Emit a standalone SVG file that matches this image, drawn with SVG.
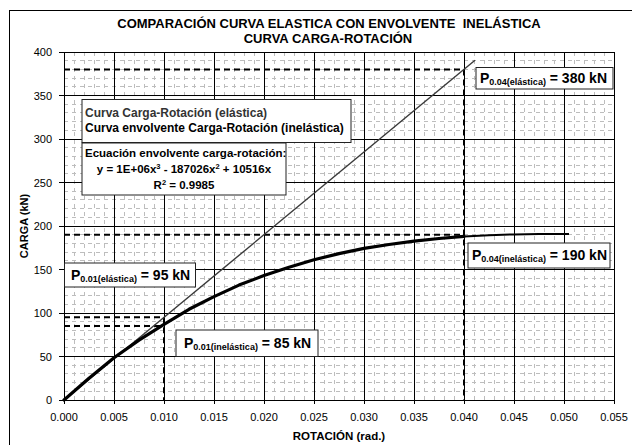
<svg xmlns="http://www.w3.org/2000/svg" width="632" height="445" viewBox="0 0 632 445">
<style>
text{font-family:"Liberation Sans",Arial,sans-serif;fill:#000}
.b{font-weight:bold}
.tick{font-size:11px}
.minor{fill:none;stroke:#bdbdbd;stroke-width:1;stroke-dasharray:4 4}
.major{fill:none;stroke:#000;stroke-width:1}
.ref{fill:none;stroke:#000;stroke-width:2;stroke-dasharray:6 4}
.box{fill:#fff;stroke:#222;stroke-width:1}
.lbl{font-size:14px;font-weight:bold}
.sub{font-size:9px}
</style>
<rect x="0" y="0" width="632" height="445" fill="#fff"/>
<rect x="9.5" y="10.5" width="640" height="450" fill="#fff" stroke="#000" stroke-width="1"/>
<g id="title" class="b" font-size="13" text-anchor="middle">
<text x="329" y="28" style="white-space:pre">COMPARACIÓN CURVA ELASTICA CON ENVOLVENTE  INELÁSTICA</text>
<text x="328" y="43">CURVA CARGA-ROTACIÓN</text>
</g>
<g id="grid" shape-rendering="crispEdges">
<path class="minor" d="M74 52V400M84 52V400M94 52V400M104 52V400M124 52V400M134 52V400M144 52V400M154 52V400M174 52V400M184 52V400M194 52V400M204 52V400M224 52V400M234 52V400M244 52V400M254 52V400M274 52V400M284 52V400M294 52V400M304 52V400M324 52V400M334 52V400M344 52V400M354 52V400M374 52V400M384 52V400M394 52V400M404 52V400M424 52V400M434 52V400M444 52V400M454 52V400M474 52V400M484 52V400M494 52V400M504 52V400M524 52V400M534 52V400M544 52V400M554 52V400M574 52V400M584 52V400M594 52V400M604 52V400"/>
<path class="minor" d="M64 391.3H614M64 382.6H614M64 373.9H614M64 365.2H614M64 347.8H614M64 339.1H614M64 330.4H614M64 321.7H614M64 304.3H614M64 295.6H614M64 286.9H614M64 278.2H614M64 260.8H614M64 252.1H614M64 243.4H614M64 234.7H614M64 217.3H614M64 208.6H614M64 199.9H614M64 191.2H614M64 173.8H614M64 165.1H614M64 156.4H614M64 147.7H614M64 130.3H614M64 121.6H614M64 112.9H614M64 104.2H614M64 86.8H614M64 78.1H614M64 69.4H614M64 60.7H614"/>
<path class="major" d="M114 52V404M164 52V404M214 52V404M264 52V404M314 52V404M364 52V404M414 52V404M464 52V404M514 52V404M564 52V404M614 52V404M64 400V404"/>
<path class="major" d="M59 356.5H614M59 313H614M59 269.5H614M59 226H614M59 182.5H614M59 139H614M59 95.5H614M59 52H64M59 400H64"/>
<rect class="major" x="64" y="52" width="550" height="348"/>
</g>
<g id="axis-labels" class="tick">
<g text-anchor="end">
<text x="52" y="404">0</text>
<text x="52" y="360.5">50</text>
<text x="52" y="317">100</text>
<text x="52" y="273.5">150</text>
<text x="52" y="230">200</text>
<text x="52" y="186.5">250</text>
<text x="52" y="143">300</text>
<text x="52" y="99.5">350</text>
<text x="52" y="56">400</text>
</g>
<g text-anchor="middle">
<text x="64" y="421">0.000</text>
<text x="114" y="421">0.005</text>
<text x="164" y="421">0.010</text>
<text x="214" y="421">0.015</text>
<text x="264" y="421">0.020</text>
<text x="314" y="421">0.025</text>
<text x="364" y="421">0.030</text>
<text x="414" y="421">0.035</text>
<text x="464" y="421">0.040</text>
<text x="514" y="421">0.045</text>
<text x="564" y="421">0.050</text>
<text x="614" y="421">0.055</text>
</g>
<text class="b" x="339" y="440" font-size="11.5" text-anchor="middle">ROTACIÓN (rad.)</text>
<text class="b" x="0" y="0" font-size="11" text-anchor="middle" transform="translate(28 226) rotate(-90)">CARGA (kN)</text>
</g>
<g id="connectors">
<path class="ref" d="M64 69.4H464V400"/>
<path class="ref" d="M64 234.7H464"/>
<path class="ref" d="M64 317.3H164V400"/>
<path class="ref" d="M64 326H164"/>
<path d="M64 400L475 60.3" fill="none" stroke="#3a3a3a" stroke-width="1.4"/>
<polyline points="64,400 89,378.2 114,357.8 139,340.1 164,324.3 189,309.3 214,296.6 239,285.1 264,275.6 289,267.2 314,259.8 339,253.6 364,248.4 389,244.5 414,241.2 439,238.5 464,236.4" fill="none" stroke="#000" stroke-width="3.2" stroke-linejoin="round" stroke-linecap="round"/>
<polyline points="464,236.4 489,235.2 514,234.4 539,234.1 569,234" fill="none" stroke="#000" stroke-width="2"/>
</g>
<g id="legend">
<rect class="box" x="82" y="99.5" width="269" height="43"/>
<text class="b" x="85" y="116.5" font-size="12" style="fill:#333">Curva Carga-Rotación (elástica)</text>
<text class="b" x="85" y="131.5" font-size="12">Curva envolvente Carga-Rotación (inelástica)</text>
</g>
<g id="equation">
<rect class="box" x="82" y="143" width="204" height="52"/>
<text class="b" x="85" y="157" font-size="11.5">Ecuación envolvente carga-rotación:</text>
<text class="b" x="184" y="173" font-size="11.5" text-anchor="middle">y = 1E+06x<tspan font-size="7.5" dy="-4">3</tspan><tspan dy="4"> - 187026x</tspan><tspan font-size="7.5" dy="-4">2</tspan><tspan dy="4"> + 10516x</tspan></text>
<text class="b" x="184" y="188.5" font-size="11.5" text-anchor="middle">R<tspan font-size="7.5" dy="-4">2</tspan><tspan dy="4"> = 0.9985</tspan></text>
</g>
<g id="label-p004-elastica">
<rect class="box" x="476" y="67.5" width="137" height="21.5"/>
<text class="lbl" x="480" y="83">P<tspan class="sub" dy="2">0.04(elástica)</tspan><tspan dy="-2"> = 380 kN</tspan></text>
</g>
<g id="label-p004-inelastica">
<rect class="box" x="468" y="243" width="142" height="25"/>
<text class="lbl" x="472" y="260">P<tspan class="sub" dy="2">0.04(inelástica)</tspan><tspan dy="-2"> = 190 kN</tspan></text>
</g>
<g id="label-p001-elastica">
<rect class="box" x="64.5" y="263" width="131" height="24"/>
<text class="lbl" x="71" y="279.5">P<tspan class="sub" dy="2">0.01(elástica)</tspan><tspan dy="-2"> = 95 kN</tspan></text>
</g>
<g id="label-p001-inelastica">
<rect class="box" x="176" y="330" width="142" height="26.5"/>
<text class="lbl" x="184" y="348">P<tspan class="sub" dy="2">0.01(inelástica)</tspan><tspan dy="-2"> = 85 kN</tspan></text>
</g>
</svg>
